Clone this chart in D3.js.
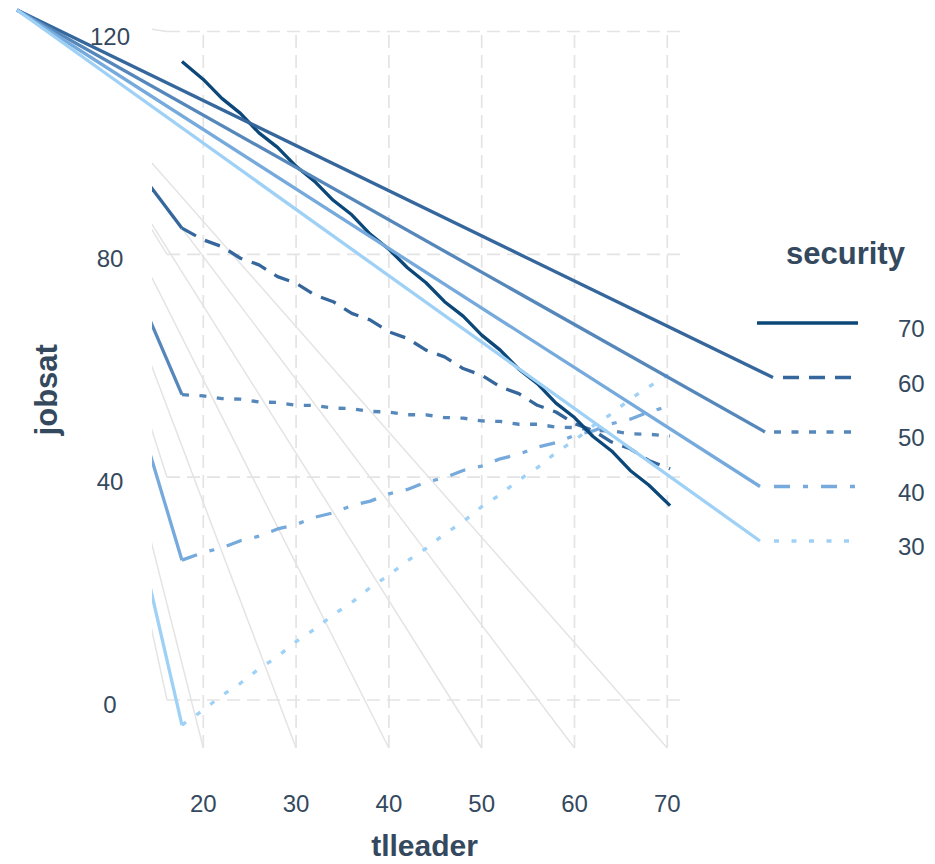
<!DOCTYPE html>
<html><head><meta charset="utf-8">
<script src="https://cdn.jsdelivr.net/npm/d3@7"></script>
<style>body{margin:0;background:#fff} svg{display:block}</style>
</head><body><svg id="c" width="935" height="864"></svg>
<script>
// ---------------- data ----------------
const tlleader = [17.7, 20, 22, 24, 26, 28, 30, 32, 34, 36, 38, 40, 42, 44, 46, 48, 50, 52, 54, 56, 58, 60, 62, 64, 66, 68, 70.3];
const securityLevels = [70, 60, 50, 40, 30];
const sec70 = [114.6, 111.4, 108.0, 105.3, 101.8, 99.2, 95.8, 93.1, 89.7, 87.1, 83.6, 80.9, 77.6, 74.9, 71.5, 68.9, 65.5, 62.8, 59.4, 56.8, 53.3, 50.7, 47.3, 44.7, 41.2, 38.6, 34.9];
const sec60 = [84.7, 82.6, 81.4, 79.3, 78.1, 76.0, 74.8, 72.7, 71.5, 69.4, 68.2, 66.1, 64.9, 62.8, 61.6, 59.5, 58.3, 56.2, 55.0, 52.9, 51.7, 49.6, 48.4, 46.3, 45.1, 43.0, 41.5];
const sec50 = [54.8, 54.6, 54.1, 54.0, 53.5, 53.4, 52.9, 52.9, 52.4, 52.3, 51.8, 51.7, 51.2, 51.2, 50.7, 50.6, 50.1, 50.0, 49.5, 49.5, 49.0, 48.9, 48.4, 48.3, 47.8, 47.7, 47.4];
const sec40 = [25.1, 26.5, 27.3, 28.6, 29.4, 30.7, 31.5, 32.8, 33.6, 34.9, 35.7, 37.0, 37.8, 39.1, 39.9, 41.2, 42.0, 43.3, 44.1, 45.4, 46.2, 47.5, 48.3, 49.6, 50.4, 51.7, 52.8];
const sec30 = [-4.5, -1.8, 0.8, 3.0, 5.6, 7.8, 10.5, 12.7, 15.3, 17.5, 20.2, 22.4, 25.0, 27.2, 29.8, 32.0, 34.7, 36.9, 39.5, 41.7, 44.4, 46.6, 49.2, 51.4, 54.0, 56.2, 58.6];
const seriesValues = {70: sec70, 60: sec60, 50: sec50, 40: sec40, 30: sec30};
const xTicks = [20, 30, 40, 50, 60, 70];
const yTicks = [0, 40, 80, 120];
const xTitle = "tlleader", yTitle = "jobsat", legendTitle = "security";

// ---------------- layout / style ----------------
const svg = d3.select('#c');
const FONT = '"Liberation Sans", Arial, Helvetica, sans-serif';
const TEXT = '#34495e';
const x = d3.scaleLinear().domain([20, 70]).range([203.3, 667.3]);
const y = d3.scaleLinear().domain([0, 120]).range([700, 31.5]);
const panel = {x0: 167, x1: 682, yBottom: 748, yTop: 31.5, clipLeft: 152};
const ORIGIN = [17, 10];
const colors = {70: '#0b4779', 60: '#35679c', 50: '#5687bb', 40: '#76aadc', 30: '#9fd1f6'};
const dashes = {70: null, 60: '16,10', 50: '7,10.5', 40: '16,13,5,13', 30: '5,12.5'};
const GRID = '#e4e4e4';
const LW = 3.3;

svg.append('defs').append('clipPath').attr('id', 'pclip')
  .append('rect').attr('x', panel.clipLeft).attr('y', 0).attr('width', 935 - panel.clipLeft).attr('height', 864);

const gPanel = svg.append('g').attr('clip-path', 'url(#pclip)');

// grid: horizontal
yTicks.forEach(v => {
  gPanel.append('line').attr('x1', ORIGIN[0]).attr('y1', ORIGIN[1]).attr('x2', panel.x0).attr('y2', y(v))
    .attr('stroke', GRID).attr('stroke-width', 1.5);
  gPanel.append('line').attr('x1', panel.x0).attr('y1', y(v)).attr('x2', panel.x1).attr('y2', y(v))
    .attr('stroke', GRID).attr('stroke-width', 1.7).attr('stroke-dasharray', '13,7');
});
// grid: vertical
xTicks.forEach(v => {
  gPanel.append('line').attr('x1', ORIGIN[0]).attr('y1', ORIGIN[1]).attr('x2', x(v)).attr('y2', panel.yBottom)
    .attr('stroke', GRID).attr('stroke-width', 1.5);
  gPanel.append('line').attr('x1', x(v)).attr('y1', panel.yBottom).attr('x2', x(v)).attr('y2', panel.yTop)
    .attr('stroke', GRID).attr('stroke-width', 1.7).attr('stroke-dasharray', '13,7');
});

// series
const line = d3.line().x((d, i) => x(tlleader[i])).y(d => y(d)).curve(d3.curveLinear);
securityLevels.slice().reverse().forEach(s => {
  const vals = seriesValues[s];
  if (s !== 70) {
    gPanel.append('line').attr('x1', ORIGIN[0]).attr('y1', ORIGIN[1])
      .attr('x2', x(tlleader[0])).attr('y2', y(vals[0]))
      .attr('stroke', colors[s]).attr('stroke-width', LW);
  }
  gPanel.append('path').attr('d', line(vals)).attr('fill', 'none')
    .attr('stroke', colors[s]).attr('stroke-width', LW).attr('stroke-linejoin', 'round')
    .attr('stroke-dasharray', dashes[s]);
});

// axes labels
svg.append('g').selectAll('text').data(yTicks).join('text')
  .attr('x', 110).attr('y', d => y(d) + 13).attr('text-anchor', 'middle')
  .attr('font-family', FONT).attr('font-size', 24).attr('fill', TEXT).text(d => d);
svg.append('g').selectAll('text').data(xTicks).join('text')
  .attr('x', d => x(d)).attr('y', 812).attr('text-anchor', 'middle')
  .attr('font-family', FONT).attr('font-size', 24).attr('fill', TEXT).text(d => d);
svg.append('text').attr('x', (panel.x0 + panel.x1) / 2).attr('y', 856).attr('text-anchor', 'middle')
  .attr('font-family', FONT).attr('font-size', 30).attr('font-weight', 'bold').attr('fill', TEXT).text(xTitle);
svg.append('text').attr('transform', `translate(57,${(panel.yTop + panel.yBottom) / 2}) rotate(-90)`)
  .attr('text-anchor', 'middle')
  .attr('font-family', FONT).attr('font-size', 31).attr('font-weight', 'bold').attr('fill', TEXT).text(yTitle);

// legend
const legend = {titleX: 786, titleY: 264, keyY0: 323, step: 54.5, labelX: 898, labelDy: 14,
  connEnd: {70: null, 60: 773, 50: 765, 40: 760, 30: 760},
  keyStart: {70: 757, 60: 783, 50: 774, 40: 774, 30: 774},
  keyEnd: {70: 858, 60: 852, 50: 852, 40: 856, 30: 849}};
const gLeg = svg.append('g');
gLeg.append('text').attr('x', legend.titleX).attr('y', legend.titleY)
  .attr('font-family', FONT).attr('font-size', 31).attr('font-weight', 'bold').attr('fill', TEXT).text(legendTitle);
securityLevels.forEach((s, i) => {
  const ky = legend.keyY0 + i * legend.step;
  if (legend.connEnd[s] !== null) {
    gLeg.append('line').attr('x1', ORIGIN[0]).attr('y1', ORIGIN[1]).attr('x2', legend.connEnd[s]).attr('y2', ky)
      .attr('stroke', colors[s]).attr('stroke-width', LW);
  }
  gLeg.append('line').attr('x1', legend.keyStart[s]).attr('y1', ky).attr('x2', legend.keyEnd[s]).attr('y2', ky)
    .attr('stroke', colors[s]).attr('stroke-width', 3.6).attr('stroke-dasharray', dashes[s]);
  gLeg.append('text').attr('x', legend.labelX).attr('y', ky + legend.labelDy)
    .attr('font-family', FONT).attr('font-size', 24).attr('fill', TEXT).text(s);
});
</script></body></html>
